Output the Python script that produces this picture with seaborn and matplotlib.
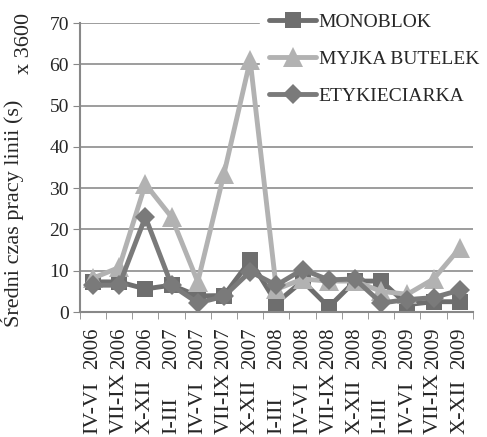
import pandas as pd
import matplotlib.pyplot as plt
import matplotlib.transforms as mtransforms
import seaborn as sns

quarters = ["IV-VI", "VII-IX", "X-XII", "I-III", "IV-VI", "VII-IX", "X-XII", "I-III",
            "IV-VI", "VII-IX", "X-XII", "I-III", "IV-VI", "VII-IX", "X-XII"]
years = ["2006", "2006", "2006", "2007", "2007", "2007", "2007", "2008",
         "2008", "2008", "2008", "2009", "2009", "2009", "2009"]
monoblok = [7.3, 7.3, 5.6, 6.5, 3.9, 4.0, 12.5, 2.2, 7.5, 1.2, 7.5, 7.5, 1.8, 2.5, 2.5]
myjka = [8.2, 10.8, 31.0, 23.0, 7.3, 33.5, 61.0, 5.5, 8.0, 7.5, 7.5, 5.0, 4.3, 8.0, 15.5]
etykieciarka = [6.5, 6.5, 23.0, 6.5, 2.2, 3.8, 9.8, 6.5, 10.3, 7.8, 8.0, 2.2, 3.0, 3.5, 5.3]
names = ["MONOBLOK", "MYJKA BUTELEK", "ETYKIECIARKA"]


def build_frame():
    '''Long format table for seaborn.'''
    rows = []
    for name, vals in zip(names, [monoblok, myjka, etykieciarka]):
        for i, v in enumerate(vals):
            rows.append({"x": i, "val": v, "seria": name})
    return pd.DataFrame(rows)


def main():
    sns.set_style("white")
    plt.rcParams['font.family'] = ['Liberation Serif', 'DejaVu Serif']
    data = build_frame()

    fig = plt.figure(figsize=(4.87, 4.37), dpi=100)
    ax = fig.add_axes([0.164, 0.286, 0.807, 0.661])

    palette = {"MONOBLOK": "#6e6e6e", "MYJKA BUTELEK": "#b2b2b2", "ETYKIECIARKA": "#7a7a7a"}
    markers = {"MONOBLOK": "s", "MYJKA BUTELEK": "^", "ETYKIECIARKA": "D"}
    sizes = {"MONOBLOK": 12, "MYJKA BUTELEK": 14, "ETYKIECIARKA": 10}
    for name in names:
        sns.lineplot(data=data[data["seria"] == name], x="x", y="val", ax=ax,
                     color=palette[name], marker=markers[name], markersize=sizes[name],
                     markeredgewidth=0, linewidth=3.5, label=name)

    ax.set_xlim(-0.5, 14.5)
    ax.set_ylim(0, 70)
    ax.set_yticks(range(0, 71, 10))
    ax.tick_params(axis="y", labelsize=14, length=5, color="#888888", left=True, pad=3)
    ax.set_xticks([i - 0.5 for i in range(16)], minor=True)
    ax.set_xticks(range(15))
    ax.set_xticklabels(years, rotation=90, fontsize=15)
    ax.tick_params(axis="x", which="major", length=0, pad=11)
    ax.tick_params(axis="x", which="minor", length=5, color="#888888", bottom=True)
    ax.grid(axis="y", color="#8c8c8c", linewidth=1.2)
    ax.set_axisbelow(True)
    for s in ["top", "right"]:
        ax.spines[s].set_visible(False)
    for s in ["left", "bottom"]:
        ax.spines[s].set_color("#888888")
        ax.spines[s].set_linewidth(1.5)
    ax.set_xlabel("")
    ax.set_ylabel("Średni czas pracy linii (s)", fontsize=16)
    ax.yaxis.set_label_coords(-0.142, 0.34)
    ax.text(-0.142, 1.035, "x 3600", transform=ax.transAxes, rotation=90,
            ha="center", va="top", fontsize=16)

    # quarter part of the category labels, bottom-aligned at the figure edge
    qtrans = mtransforms.blended_transform_factory(ax.transData, fig.transFigure)
    for i, q in enumerate(quarters):
        ax.text(i, 0.006, q, transform=qtrans, rotation=90,
                ha="center", va="bottom", fontsize=16)

    leg = ax.legend(loc="upper right", bbox_to_anchor=(1.004, 0.992), bbox_transform=fig.transFigure,
                    frameon=True, fontsize=14, handlelength=2.4, handletextpad=0.15,
                    labelspacing=1.0, borderpad=0.5, borderaxespad=0.0)
    leg.get_frame().set_facecolor("white")
    leg.get_frame().set_edgecolor("white")
    leg.get_frame().set_alpha(1)

    fig.savefig("out.png", dpi=100)


if __name__ == "__main__":
    main()
